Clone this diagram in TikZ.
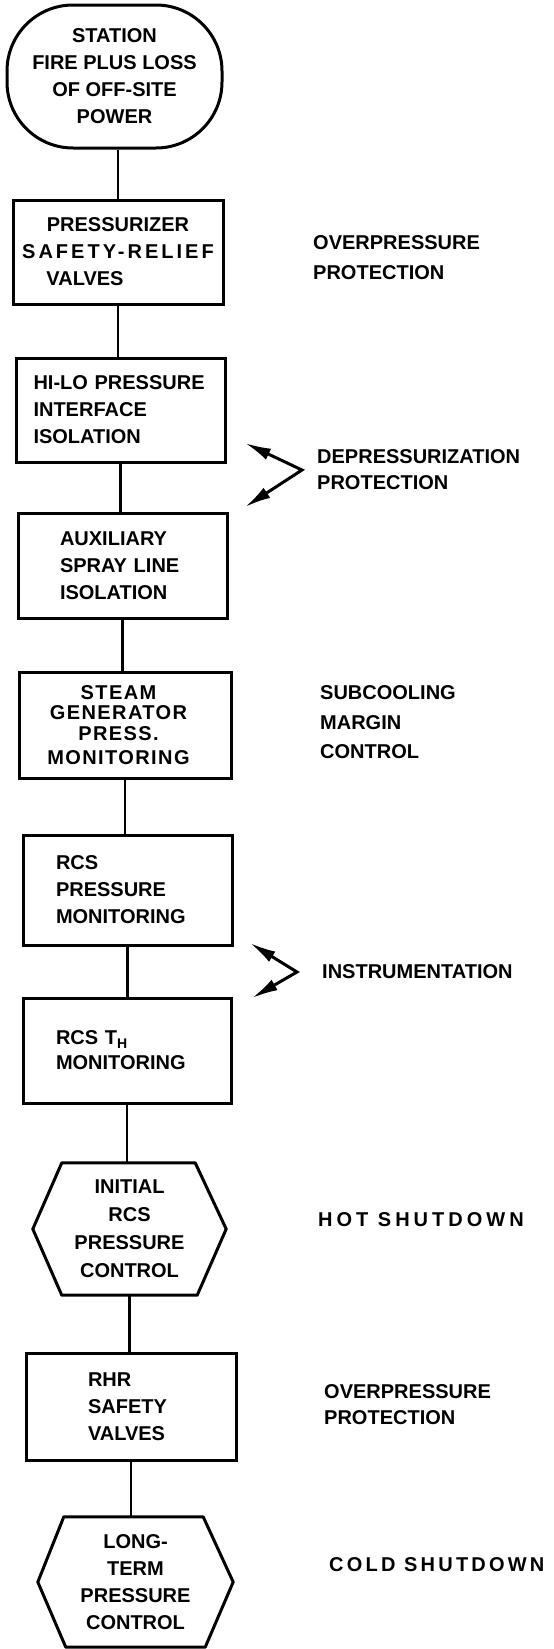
\documentclass[tikz,border=0pt]{standalone}
\usepackage{fontspec}
\setmainfont{Liberation Sans}
\usetikzlibrary{arrows.meta}
\begin{document}
\begin{tikzpicture}[x=1pt,y=-1pt,
  every node/.style={font=\bfseries\fontsize{20}{27}\selectfont, inner sep=0pt},
  outline/.style={draw, line width=3pt},
  stepbox/.style={outline, rectangle, minimum width=#1},
  link/.style={line width=2.4pt},
  brace/.style={line width=3pt, {Latex[length=26pt,width=12pt,fill=black]}-{Latex[length=26pt,width=12pt,fill=black]}},
  lbl/.style={anchor=west, align=left}]
\useasboundingbox (0,0) rectangle (554,1649);

% left column
\node[outline, rounded corners=66pt, minimum width=215pt, minimum height=143pt, align=center] (n0) at (114.5,76.5)
  {STATION\\FIRE PLUS LOSS\\OF OFF-SITE\\POWER};
\node[stepbox=210pt, minimum height=104pt, align=center] (n1) at (118,252)
  {PRESSURIZER\\{\addfontfeature{LetterSpace=15}SAFETY-RELIEF}\\\makebox[143pt][l]{VALVES}};
\node[stepbox=209pt, minimum height=104pt, text width=174pt, align=left] (n2) at (120.5,410)
  {HI-LO PRESSURE\\INTERFACE\\ISOLATION};
\node[stepbox=209pt, minimum height=105pt, text width=125pt, align=left] (n3) at (122.5,565.5)
  {AUXILIARY\\SPRAY LINE\\ISOLATION};
\node[stepbox=212pt, minimum height=106pt, align=center,
  font=\bfseries\fontsize{20}{20.5}\selectfont\addfontfeature{LetterSpace=7}] (n4) at (125,725)
  {\hspace*{-13pt}STEAM\\\hspace*{-13pt}GENERATOR\\\hspace*{-13pt}PRESS.\\[4pt]\hspace*{-13pt}MONITORING};
\node[stepbox=209pt, minimum height=110pt, text width=143pt, align=left] (n5) at (127.5,890)
  {RCS\\PRESSURE\\MONITORING};
\node[stepbox=208pt, minimum height=105pt, text width=142pt, align=left,
  font=\bfseries\fontsize{20}{25}\selectfont] (n6) at (127,1050.5)
  {RCS T\textsubscript{H}\\MONITORING};
\node[minimum width=193pt, minimum height=132pt, align=center,
  font=\bfseries\fontsize{20}{28}\selectfont] (h1) at (129.5,1229)
  {INITIAL\\RCS\\PRESSURE\\CONTROL};
\node[stepbox=210pt, minimum height=107pt, text width=86pt, align=left] (n7) at (131,1406.5)
  {RHR\\SAFETY\\VALVES};
\node[minimum width=195pt, minimum height=130pt, align=center] (h2) at (135.5,1582)
  {LONG-\\TERM\\PRESSURE\\CONTROL};

% hexagon outlines
\draw[outline, line join=round] ([xshift=29pt]h1.north west) -- ([xshift=-31pt]h1.north east) -- (h1.east)
  -- ([xshift=-29pt]h1.south east) -- ([xshift=29pt]h1.south west) -- (h1.west) -- cycle;
\draw[outline, line join=round] ([xshift=26pt]h2.north west) -- ([xshift=-30pt]h2.north east) -- (h2.east)
  -- ([xshift=-28pt]h2.south east) -- ([xshift=28pt]h2.south west) -- (h2.west) -- cycle;

% connectors
\draw[link] (n1.north) -- (n1.north |- n0.south);
\draw[link] (n1.south) -- (n1.south |- n2.north);
\draw[link] (n2.south) -- (n2.south |- n3.north);
\draw[link] (n3.south) -- (n3.south |- n4.north);
\draw[link] (n4.south) -- (n4.south |- n5.north);
\draw[link] (n5.south) -- (n5.south |- n6.north);
\draw[link] (n6.south) -- (n6.south |- h1.north);
\draw[link] (h1.south) -- (h1.south |- n7.north);
\draw[link] (n7.south) -- (n7.south |- h2.north);

% right labels
\node[lbl, font=\bfseries\fontsize{20}{30}\selectfont] (l1) at (313,258) {OVERPRESSURE\\PROTECTION};
\node[lbl, font=\bfseries\fontsize{20}{26}\selectfont] (l2) at (317,470) {DEPRESSURIZATION\\PROTECTION};
\node[lbl, font=\bfseries\fontsize{20}{29.5}\selectfont] (l3) at (320,722.5) {SUBCOOLING\\MARGIN\\CONTROL};
\node[lbl] (l4) at (322,972) {INSTRUMENTATION};
\node[lbl, font=\bfseries\fontsize{20}{27}\selectfont\addfontfeature{LetterSpace=20}] (l5) at (318,1220) {HOT SHUTDOWN};
\node[lbl, font=\bfseries\fontsize{20}{26}\selectfont] (l6) at (324,1405) {OVERPRESSURE\\PROTECTION};
\node[lbl, font=\bfseries\fontsize{20}{27}\selectfont\addfontfeature{LetterSpace=16}] (l7) at (329,1565) {COLD SHUTDOWN};

% bracket arrows
\coordinate (d1) at (245,443);
\coordinate (dv) at (302,470);
\coordinate (d2) at (245,507);
\draw[brace] (d1) -- (dv) -- (d2);
\coordinate (i1) at (250,943);
\coordinate (iv) at (297,972);
\coordinate (i2) at (252,998);
\draw[brace] (i1) -- (iv) -- (i2);
\end{tikzpicture}
\end{document}
